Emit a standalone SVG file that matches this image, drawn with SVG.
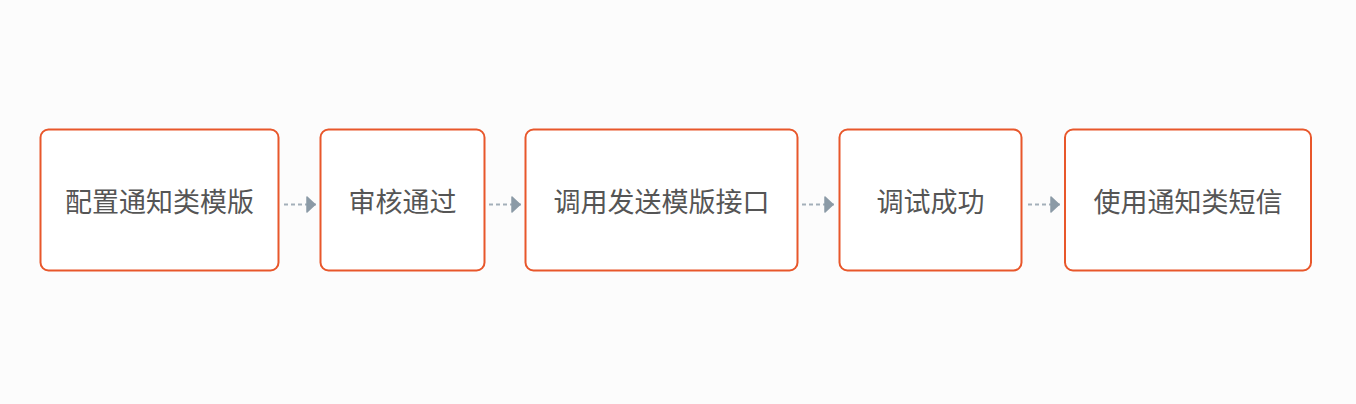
<svg xmlns="http://www.w3.org/2000/svg" width="1356" height="404" viewBox="0 0 1356 404">
<defs>
<style>
.box{fill:#ffffff;stroke:#e8572b;stroke-width:2}
.lbl{font-family:"Noto Sans CJK SC","Noto Sans",sans-serif;font-size:27px;fill:#555555;text-anchor:middle}
.edge{stroke:#a3afb9;stroke-width:2;stroke-dasharray:4 3;fill:none}
</style>
<marker id="arr" viewBox="0 0 10 18" refX="10" refY="9" markerWidth="10" markerHeight="18" markerUnits="userSpaceOnUse" orient="auto">
<path d="M1,1.5 L9,9 L1,16.5 Z" fill="#8b9aa6" stroke="#8b9aa6" stroke-width="1.5" stroke-linejoin="round"/>
</marker>
</defs>
<rect width="1356" height="404" fill="#fcfcfc"/>
<g id="connectors">
<line class="edge" x1="284" y1="204.5" x2="316" y2="204.5" marker-end="url(#arr)"/>
<line class="edge" x1="489" y1="204.5" x2="521" y2="204.5" marker-end="url(#arr)"/>
<line class="edge" x1="802" y1="204.5" x2="834" y2="204.5" marker-end="url(#arr)"/>
<line class="edge" x1="1028" y1="204.5" x2="1060" y2="204.5" marker-end="url(#arr)"/>
</g>
<g id="n1"><rect class="box" x="40.5" y="129.5" width="238" height="141" rx="8"/><text class="lbl" x="159.5" y="211.5">配置通知类模版</text></g>
<g id="n2"><rect class="box" x="320.5" y="129.5" width="164" height="141" rx="8"/><text class="lbl" x="402.5" y="211.5">审核通过</text></g>
<g id="n3"><rect class="box" x="525.5" y="129.5" width="272" height="141" rx="8"/><text class="lbl" x="661.5" y="211.5">调用发送模版接口</text></g>
<g id="n4"><rect class="box" x="839.5" y="129.5" width="182" height="141" rx="8"/><text class="lbl" x="930.5" y="211.5">调试成功</text></g>
<g id="n5"><rect class="box" x="1065" y="129.5" width="246" height="141" rx="8"/><text class="lbl" x="1188" y="211.5">使用通知类短信</text></g>
</svg>
